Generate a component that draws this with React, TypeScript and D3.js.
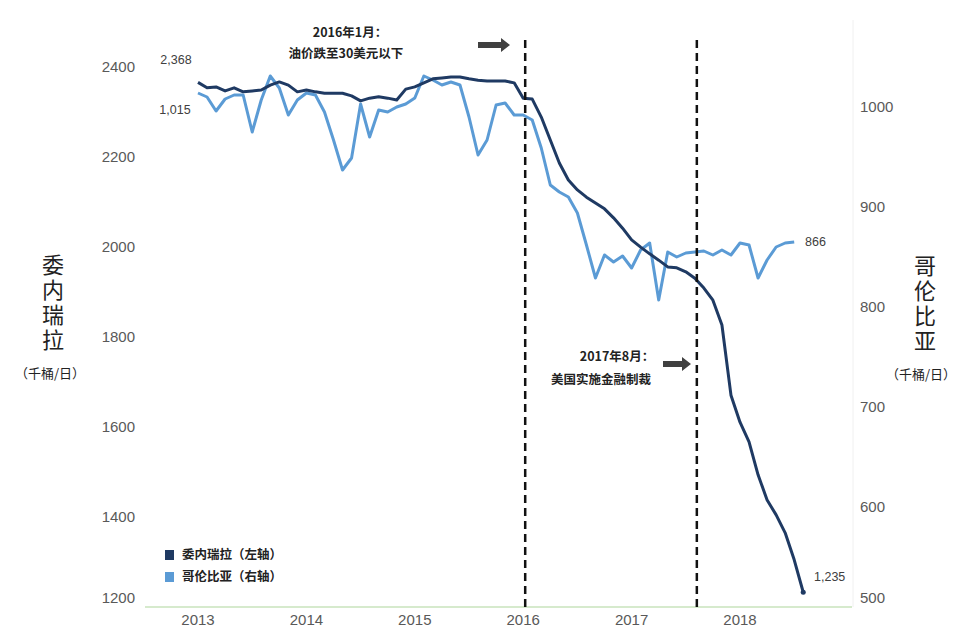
import React from "react";
import * as d3 from "d3";

// Monthly data, Jan 2013 .. Aug 2018
const startYear = 2013;
const venezuela = [
  2368, 2356, 2358, 2349, 2356, 2347, 2349, 2351, 2362, 2369, 2362, 2347,
  2351, 2347, 2344, 2344, 2344, 2338, 2327, 2333, 2336, 2333, 2329, 2353,
  2358, 2367, 2376, 2378, 2380, 2380, 2376, 2373, 2371, 2371, 2371, 2367,
  2333, 2331, 2291, 2240, 2189, 2151, 2129, 2113, 2100, 2087, 2067, 2044,
  2018, 2002, 1987, 1973, 1958, 1956, 1947, 1933, 1911, 1884, 1829, 1673,
  1613, 1569, 1496, 1440, 1407, 1367, 1307, 1235,
];
const colombia = [
  1015, 1011, 997, 1009, 1013, 1013, 976, 1008, 1032, 1020, 993, 1008,
  1015, 1013, 996, 968, 938, 950, 1004, 971, 998, 996, 1001, 1004,
  1010, 1032, 1028, 1023, 1026, 1023, 991, 953, 968, 1003, 1005, 993,
  993, 988, 960, 923, 916, 911, 895, 863, 830, 853, 846, 852,
  840, 858, 865, 808, 856, 851, 855, 856, 857, 853, 858, 853,
  865, 863, 830, 848, 861, 865, 866,
];
const yearLabels = ["2013", "2014", "2015", "2016", "2017", "2018"];
const leftTicks = [1200, 1400, 1600, 1800, 2000, 2200, 2400];
const rightTicks = [500, 600, 700, 800, 900, 1000];
// event markers: month index from Jan 2013
const events = [
  { m: 36, l1: "2016年1月：", l2: "油价跌至30美元以下" },
  { m: 55, l1: "2017年8月：", l2: "美国实施金融制裁" },
];

const W = 965;
const H = 630;

export default function App() {
  const x = d3.scaleLinear().domain([0, 60]).range([198, 740]);
  const yL = d3.scaleLinear().domain([1200, 2400]).range([608, 68]);
  const yR = d3.scaleLinear().domain([500, 1000]).range([608, 108]);

  const lineL = d3
    .line<number>()
    .x((_, i) => x(i))
    .y((d) => yL(d));
  const lineR = d3
    .line<number>()
    .x((_, i) => x(i))
    .y((d) => yR(d));

  const tickFont = "'Liberation Sans', Arial, sans-serif";
  const cjk = "'Noto Sans CJK SC', sans-serif";
  const dark = "#1f3a63";
  const light = "#5b9bd5";
  const lastV = venezuela.length - 1;
  const lastC = colombia.length - 1;

  const arrow = (ax: number, ay: number, w: number) => (
    <path
      d={`M${ax},${ay - 3} L${ax + w - 9},${ay - 3} L${ax + w - 9},${ay - 7} L${ax + w},${ay} L${ax + w - 9},${ay + 7} L${ax + w - 9},${ay + 3} L${ax},${ay + 3} Z`}
      fill="#404040"
    />
  );

  return (
    <svg
      width={W}
      height={H}
      style={{ position: "absolute", left: 0, top: 0, background: "#fff" }}
    >
      {/* axis line */}
      <line x1={145} x2={852} y1={607} y2={607} stroke="#c9e3bd" strokeWidth={1.5} />
      <line x1={853} x2={853} y1={20} y2={607} stroke="#f0f0f0" strokeWidth={1} />

      {/* left ticks */}
      {leftTicks.map((t) => (
        <text
          key={"l" + t}
          x={135}
          y={yL(t) + (t === 1200 ? -9 : 0)}
          textAnchor="end"
          dominantBaseline="middle"
          fontFamily={tickFont}
          fontSize={15}
          fill="#595959"
        >
          {t}
        </text>
      ))}
      {/* right ticks */}
      {rightTicks.map((t) => (
        <text
          key={"r" + t}
          x={860}
          y={yR(t) + (t === 500 ? -9 : 0)}
          textAnchor="start"
          dominantBaseline="middle"
          fontFamily={tickFont}
          fontSize={15}
          fill="#595959"
        >
          {t}
        </text>
      ))}
      {/* x labels */}
      {yearLabels.map((lab, i) => (
        <text
          key={lab}
          x={x(i * 12)}
          y={621}
          textAnchor="middle"
          dominantBaseline="middle"
          fontFamily={tickFont}
          fontSize={15}
          fill="#595959"
        >
          {lab}
        </text>
      ))}

      {/* axis titles (vertical) */}
      <text
        x={53}
        y={254}
        style={{ writingMode: "vertical-rl", letterSpacing: "3px" }}
        fontFamily={cjk}
        fontSize={22}
        fill="#222"
      >
        委内瑞拉
      </text>
      <text x={50} y={374} textAnchor="middle" dominantBaseline="middle" fontFamily={cjk} fontSize={13} fill="#222">
        （千桶/日）
      </text>
      <text
        x={925}
        y={255}
        style={{ writingMode: "vertical-rl", letterSpacing: "3px" }}
        fontFamily={cjk}
        fontSize={22}
        fill="#222"
      >
        哥伦比亚
      </text>
      <text x={921} y={375} textAnchor="middle" dominantBaseline="middle" fontFamily={cjk} fontSize={13} fill="#222">
        （千桶/日）
      </text>

      {/* lines */}
      <path d={lineR(colombia) || ""} fill="none" stroke={light} strokeWidth={3} strokeLinejoin="round" />
      <path d={lineL(venezuela) || ""} fill="none" stroke={dark} strokeWidth={3} strokeLinejoin="round" />
      <circle cx={x(lastV)} cy={yL(venezuela[lastV])} r={2.5} fill={dark} />

      {/* event lines */}
      {events.map((e) => (
        <line
          key={"ev" + e.m}
          x1={x(e.m) + 2}
          x2={x(e.m) + 2}
          y1={40}
          y2={608}
          stroke="#111"
          strokeWidth={2.5}
          strokeDasharray="8,5"
        />
      ))}

      {/* annotations */}
      <text x={350} y={34} textAnchor="middle" dominantBaseline="middle" fontFamily={cjk} fontWeight={700} fontSize={12.5} fill="#222">
        {events[0].l1}
      </text>
      <text x={346} y={55} textAnchor="middle" dominantBaseline="middle" fontFamily={cjk} fontWeight={700} fontSize={12.5} fill="#222">
        {events[0].l2}
      </text>
      {arrow(478, 45, 32)}
      <text x={617} y={358} textAnchor="middle" dominantBaseline="middle" fontFamily={cjk} fontWeight={700} fontSize={12.5} fill="#222">
        {events[1].l1}
      </text>
      <text x={601} y={381} textAnchor="middle" dominantBaseline="middle" fontFamily={cjk} fontWeight={700} fontSize={12.5} fill="#222">
        {events[1].l2}
      </text>
      {arrow(663, 364, 28)}

      {/* data labels */}
      <text x={176} y={61} textAnchor="middle" dominantBaseline="middle" fontFamily={tickFont} fontSize={12.5} fill="#404040">
        {d3.format(",")(venezuela[0])}
      </text>
      <text x={175} y={111} textAnchor="middle" dominantBaseline="middle" fontFamily={tickFont} fontSize={12.5} fill="#404040">
        {d3.format(",")(colombia[0])}
      </text>
      <text x={805} y={243} textAnchor="start" dominantBaseline="middle" fontFamily={tickFont} fontSize={12.5} fill="#404040">
        {d3.format(",")(colombia[lastC])}
      </text>
      <text x={814} y={578} textAnchor="start" dominantBaseline="middle" fontFamily={tickFont} fontSize={12.5} fill="#404040">
        {d3.format(",")(venezuela[lastV])}
      </text>

      {/* legend */}
      <rect x={165} y={550} width={9} height={10} fill={dark} />
      <text x={182} y={556} dominantBaseline="middle" fontFamily={cjk} fontWeight={700} fontSize={12.5} fill="#222">
        委内瑞拉（左轴）
      </text>
      <rect x={165} y={572} width={9} height={10} fill={light} />
      <text x={182} y={578} dominantBaseline="middle" fontFamily={cjk} fontWeight={700} fontSize={12.5} fill="#222">
        哥伦比亚（右轴）
      </text>
    </svg>
  );
}
